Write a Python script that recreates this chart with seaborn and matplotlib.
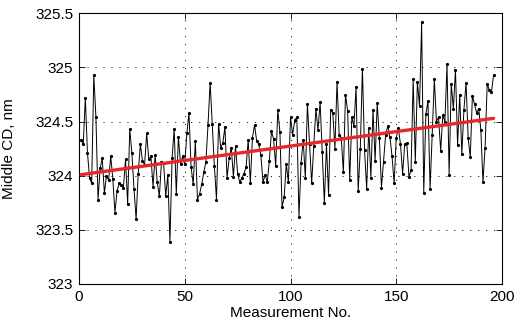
import numpy as np
import pandas as pd
import seaborn as sns
import matplotlib.pyplot as plt
from matplotlib.ticker import FormatStrFormatter

# middle CD readings
cd = [324.33, 324.29, 324.72, 324.21, 323.98, 323.93, 324.93, 324.54, 323.78, 324.07,
      324.16, 323.84, 324.00, 323.96, 324.18, 323.97, 323.66, 323.86, 323.93, 323.91,
      323.89, 324.15, 323.74, 324.43, 324.21, 323.88, 323.60, 324.02, 324.29, 324.14,
      324.10, 324.39, 324.15, 324.18, 323.90, 324.19, 323.94, 323.81, 324.13, 324.12,
      323.81, 324.01, 323.39, 324.16, 324.43, 323.83, 324.36, 324.11, 324.18, 324.11,
      324.39, 324.58, 324.08, 323.92, 324.32, 323.78, 323.83, 323.92, 324.03, 324.13,
      324.47, 324.86, 324.48, 324.09, 323.78, 324.48, 324.26, 324.30, 324.45, 323.98,
      324.16, 324.26, 323.99, 324.27, 324.02, 323.94, 323.98, 324.02, 324.08, 324.33,
      323.93, 324.35, 324.47, 324.32, 324.29, 324.19, 323.94, 324.01, 323.94, 324.14,
      324.41, 324.34, 324.09, 324.61, 324.40, 323.71, 323.80, 324.11, 323.94, 324.54,
      324.38, 324.51, 324.54, 323.62, 324.12, 324.33, 323.98, 324.66, 324.29, 323.93,
      324.27, 324.62, 324.42, 324.68, 324.22, 323.75, 324.29, 323.82, 324.61, 324.58,
      324.25, 324.87, 324.38, 324.35, 324.03, 324.75, 324.60, 323.96, 324.54, 324.46,
      324.82, 323.86, 324.25, 324.99, 324.24, 323.88, 324.44, 323.98, 324.61, 324.14,
      324.67, 324.35, 323.89, 324.13, 324.38, 324.46, 324.36, 324.18, 323.93, 324.35,
      324.44, 324.29, 324.02, 324.29, 324.30, 323.99, 324.05, 324.89, 324.13, 324.87,
      324.64, 325.42, 323.84, 324.57, 324.69, 323.88, 324.38, 324.89, 324.50, 324.54,
      324.23, 324.56, 324.50, 325.03, 324.01, 324.85, 324.62, 324.98, 324.28, 324.75,
      324.20, 324.61, 324.86, 324.35, 324.17, 324.74, 324.66, 324.58, 324.62, 324.42,
      323.94, 324.26, 324.85, 324.79, 324.77, 324.93]
meas_no = list(range(1, len(cd) + 1))

# linear trend ends
trend_x = [1, 196]
trend_y = [324.01, 324.53]

df = pd.DataFrame({"n": meas_no, "cd": cd})
trend = pd.DataFrame({"n": trend_x, "cd": trend_y})

sns.set_style("ticks")
plt.rcParams["font.family"] = ["Liberation Sans", "DejaVu Sans"]

fig = plt.figure(figsize=(5.17, 3.29), dpi=100)
ax = fig.add_axes([0.1528, 0.1368, 0.8182, 0.8228])

sns.lineplot(data=df, x="n", y="cd", ax=ax, color="black", linewidth=0.7,
             marker="o", markersize=2.3, markeredgewidth=0, zorder=3)
sns.lineplot(data=trend, x="n", y="cd", ax=ax, color="#e5282b", linewidth=2.4, zorder=4)

ax.set_xlim(0, 200)
ax.set_ylim(323, 325.5)
ax.set_xticks([0, 50, 100, 150, 200])
ax.set_yticks([323, 323.5, 324, 324.5, 325, 325.5])
ax.yaxis.set_major_formatter(FormatStrFormatter("%g"))
ax.grid(True, linestyle=(0, (1.2, 7)), color="#222222", linewidth=0.7)
ax.tick_params(axis="both", direction="in", top=True, right=True, length=4, width=0.6,
               labelsize=11, colors="black")
ax.tick_params(axis="x", pad=4)
ax.tick_params(axis="y", pad=4)
for s in ax.spines.values():
    s.set_visible(True)
    s.set_color("black")
    s.set_linewidth(0.8)

ax.set_xlabel("Measurement No.", fontsize=11, color="black")
ax.set_ylabel("Middle CD, nm", fontsize=11, color="black")
ax.xaxis.set_label_coords(0.5, -0.083)
ax.yaxis.set_label_coords(-0.148, 0.5)

fig.savefig("out.png", dpi=100)
